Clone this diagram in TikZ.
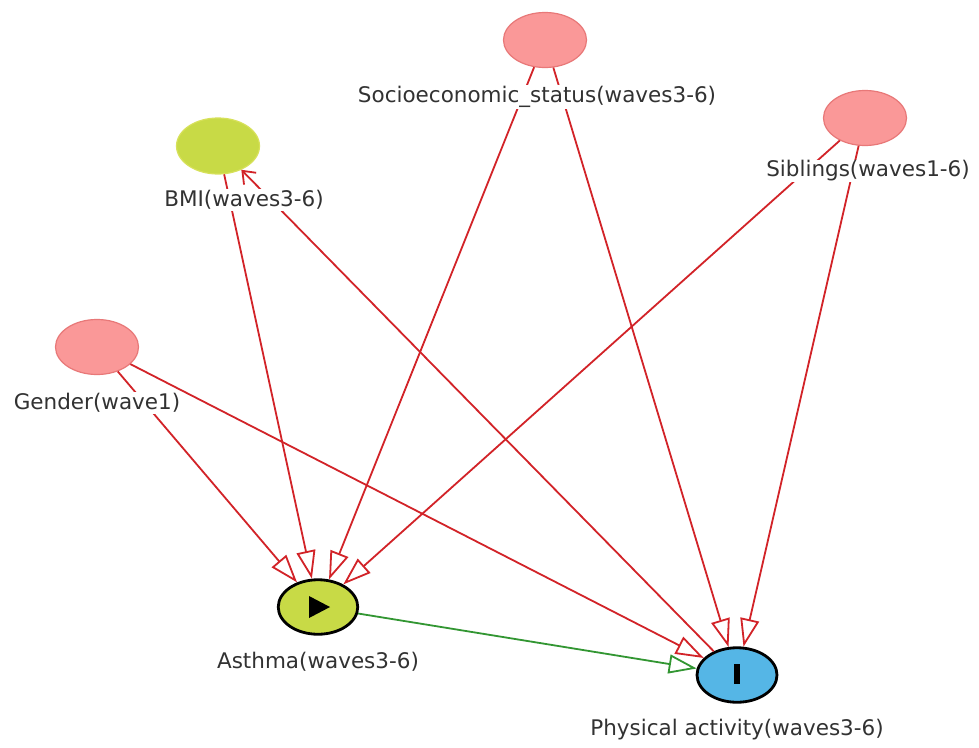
\documentclass[tikz,border=0pt]{standalone}
\usepackage{fontspec}
\newfontfamily\labfont{DejaVu Sans}
\usetikzlibrary{arrows.meta,shapes.geometric}
\definecolor{pinkfill}{RGB}{250,152,152}
\definecolor{pinkdraw}{RGB}{232,120,120}
\definecolor{limefill}{RGB}{200,218,70}
\definecolor{limedraw}{RGB}{215,225,90}
\definecolor{bluefill}{RGB}{85,182,230}
\definecolor{edgered}{RGB}{210,35,40}
\definecolor{edgegreen}{RGB}{50,150,50}
\definecolor{txt}{RGB}{50,50,50}
\begin{document}
\begin{tikzpicture}[x=1pt,y=-1pt,
  var/.style={ellipse, inner sep=0pt},
  latent/.style={var, fill=pinkfill, draw=pinkdraw, line width=1.2pt, minimum width=83pt, minimum height=55pt},
  med/.style={var, fill=limefill, draw=limedraw, line width=1.2pt, minimum width=83pt, minimum height=56pt},
  expo/.style={var, fill=limefill, draw=black, line width=2.8pt, minimum width=79.5pt, minimum height=54.5pt},
  outc/.style={var, fill=bluefill, draw=black, line width=2.8pt, minimum width=80pt, minimum height=54.5pt},
  lab/.style={font=\labfont\fontsize{21.5}{25}\selectfont, text=txt, fill=white, inner sep=1pt},
  rarr/.style={draw=edgered, line width=1.8pt, -{Triangle[open,length=28pt,width=19pt,line width=1.8pt]}},
  garr/.style={draw=edgegreen, line width=1.8pt, -{Triangle[open,length=28pt,width=19pt,line width=1.8pt]}},
  barr/.style={draw=edgered, line width=1.8pt, -{Straight Barb[length=11pt,width=17pt,line width=1.8pt]}}
]
\useasboundingbox (0,0) rectangle (979,747);
\fill[white] (0,0) rectangle (979,747);

% variable nodes
\node[latent] (soc) at (545,40) {};
\node[med]    (bmi) at (218,146) {};
\node[latent] (sib) at (865,118) {};
\node[latent] (gen) at (97,347) {};
\node[expo]   (ast) at (318,607) {};
\node[outc]   (pa)  at (737,675) {};

% icons
\fill[black] (ast.center) ++(-9,-11) -- ++(21,11) -- ++(-21,11) -- cycle;
\fill[black] (pa.center) ++(-3,-11) rectangle ++(6,20);

% edges
\draw[rarr] (gen) -- (ast);
\draw[rarr] (gen) -- (pa);
\draw[rarr] (bmi) -- (ast);
\draw[barr] (pa) -- (bmi);
\draw[rarr] (soc) -- (ast);
\draw[rarr] (soc) -- (pa);
\draw[rarr] (sib) -- (ast);
\draw[rarr] (sib) -- (pa);
\draw[garr] (ast) -- (pa);

% labels
\node[lab] (socl) at (537,97)  {Socioeconomic\_status(waves3-6)};
\node[lab] (bmil) at (244,200) {BMI(waves3-6)};
\node[lab] (sibl) at (868,171) {Siblings(waves1-6)};
\node[lab] (genl) at (97,403)  {Gender(wave1)};
\node[lab] (astl) at (318,662) {Asthma(waves3-6)};
\node[lab] (pal)  at (737,730) {Physical activity(waves3-6)};
\end{tikzpicture}
\end{document}
